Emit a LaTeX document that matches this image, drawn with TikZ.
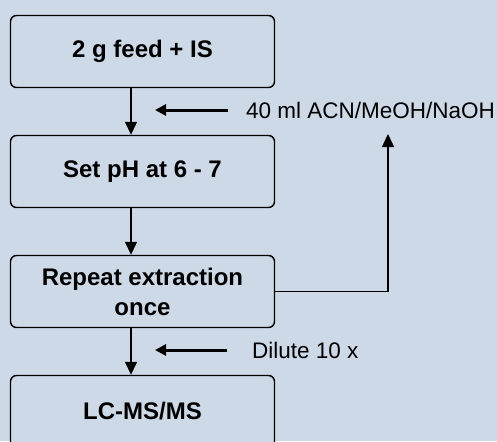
\documentclass[tikz,border=0pt]{standalone}
\usepackage{fontspec}
\setmainfont{Liberation Sans}
\usetikzlibrary{arrows.meta}
\definecolor{bg}{HTML}{CED9E8}
\begin{document}
\begin{tikzpicture}[x=1pt,y=1pt,
  box/.style={draw, line width=1.4pt, rounded corners=6pt, fill=bg,
    minimum width=264pt, minimum height=72pt, align=center, inner sep=0pt,
    font=\bfseries\fontsize{24}{30}\selectfont},
  mainarrow/.style={line width=1.4pt, -{Triangle[length=13pt,width=12pt]}},
  sidearrow/.style={line width=3pt, -{Triangle[length=11pt,width=11pt]}},
  lbl/.style={anchor=west, inner sep=0pt, font=\fontsize{22.5}{26}\selectfont}]
\fill[bg] (0,0) rectangle (497,-441);
\useasboundingbox (0,0) rectangle (497,-441);
\begin{scope}
\clip (0,0) rectangle (497,-441);
\node[box] (b1) at (142.5,-51.5) {2 g feed + IS};
\node[box] (b2) at (142.5,-171.5) {Set pH at 6 - 7};
\node[box] (b3) at (142.5,-291.5) {Repeat extraction\\once};
\node[box] (b4) at (142.5,-411.5) {LC-MS/MS};
\coordinate (ax) at (131,0);
\draw[mainarrow] (b1.south -| ax) -- (b2.north -| ax);
\draw[mainarrow] (b2.south -| ax) -- (b3.north -| ax);
\draw[mainarrow] (b3.south -| ax) -- (b4.north -| ax);
\node[lbl] (t1) at (246,-110) {40 ml ACN/MeOH/NaOH};
\node[lbl] (t2) at (252,-350) {Dilute 10 x};
\coordinate (s1a) at (228,-110);
\coordinate (s1b) at (155,-110);
\coordinate (s2a) at (227,-350);
\coordinate (s2b) at (155,-350);
\draw[sidearrow] (s1a) -- (s1b);
\draw[sidearrow] (s2a) -- (s2b);
\coordinate (looptip) at (388,-134);
\draw[mainarrow] (b3.east) -| (looptip);
\end{scope}
\end{tikzpicture}
\end{document}
